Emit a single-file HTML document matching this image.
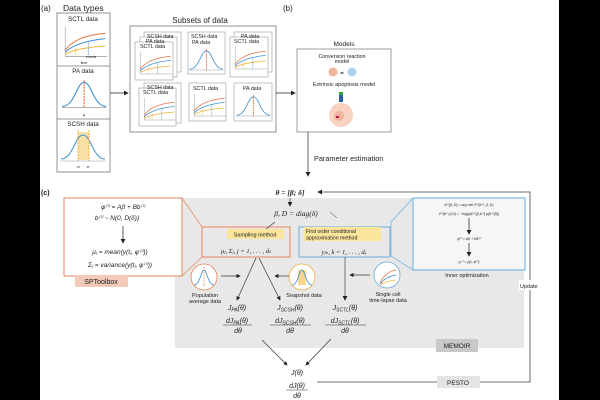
<!DOCTYPE html>
<html><head><meta charset="utf-8"><style>
html,body{margin:0;padding:0;background:#000;}
svg{display:block}
text{font-family:"Liberation Sans",sans-serif;fill:#222}
.m{font-family:"Liberation Serif",serif;font-style:italic}
</style></head><body>
<svg width="600" height="400" viewBox="0 0 600 400" xmlns="http://www.w3.org/2000/svg">
<defs>
<marker id="ah" markerWidth="6" markerHeight="6" refX="5" refY="3" orient="auto"><path d="M0,0 L6,3 L0,6 z" fill="#222"/></marker>
<g id="sctl">
 <line x1="4" y1="2" x2="4" y2="30" stroke="#999" stroke-width="0.6"/>
 <line x1="4" y1="30" x2="44" y2="30" stroke="#999" stroke-width="0.6"/>
 <path d="M4,24 Q14,10 42,8" stroke="#e8744a" fill="none" stroke-width="1"/>
 <path d="M4,26 Q14,16 42,13" stroke="#3a8fd1" fill="none" stroke-width="1"/>
 <path d="M4,28 Q14,22 42,20" stroke="#f0b43c" fill="none" stroke-width="1"/>
 <line x1="14" y1="22" x2="14" y2="30" stroke="#f0b43c" stroke-dasharray="1.5,1" stroke-width="0.8"/>
 <line x1="26" y1="17" x2="26" y2="30" stroke="#3a8fd1" stroke-dasharray="1.5,1" stroke-width="0.8"/>
</g>
<g id="pa">
 <line x1="2" y1="30" x2="44" y2="30" stroke="#999" stroke-width="0.6"/>
 <path d="M2,29 C14,29 16,6 23,6 C30,6 32,29 44,29" stroke="#3a8fd1" fill="none" stroke-width="1"/>
 <line x1="23" y1="4" x2="23" y2="30" stroke="#e8744a" stroke-dasharray="2,1" stroke-width="1.2"/>
</g>
</defs>
<rect x="0" y="0" width="600" height="400" fill="#000"/>
<rect x="40" y="0" width="519" height="400" fill="#fff"/>

<!-- (a) -->
<text x="41" y="11" font-size="8">(a)</text>
<text x="63" y="11" font-size="8.5">Data types</text>
<rect x="57" y="13" width="53" height="159" fill="#fff" stroke="#777" stroke-width="0.8"/>
<line x1="57" y1="66" x2="110" y2="66" stroke="#777" stroke-width="0.8"/>
<line x1="57" y1="119" x2="110" y2="119" stroke="#777" stroke-width="0.8"/>
<text x="83" y="21" font-size="6.3" text-anchor="middle">SCTL data</text>
<use href="#sctl" transform="translate(61,25) scale(1.05,1.05)"/>
<text x="86" y="58" font-size="3.5">events</text>
<text x="84" y="64" font-size="3.5" text-anchor="middle">time</text>
<text x="83" y="73" font-size="6.3" text-anchor="middle">PA data</text>
<use href="#pa" transform="translate(60,76) scale(1.05,1.05)"/>
<text x="84" y="116" font-size="4" text-anchor="middle">μ</text>
<text x="83" y="126" font-size="6.3" text-anchor="middle">SCSH data</text>
<path d="M78,132 L89,132 L89,160 L78,160 z" fill="#f6d78e" opacity="0.8"/>
<path d="M61,159 C73,159 75,135 83,135 C91,135 93,159 105,159" stroke="#3a8fd1" fill="none" stroke-width="1"/>
<line x1="78" y1="130" x2="78" y2="161" stroke="#f0b43c" stroke-dasharray="2,1" stroke-width="1"/>
<line x1="89" y1="130" x2="89" y2="161" stroke="#f0b43c" stroke-dasharray="2,1" stroke-width="1"/>
<line x1="60" y1="161" x2="106" y2="161" stroke="#999" stroke-width="0.6"/>
<text x="78" y="168" font-size="4" text-anchor="middle">-σ</text>
<text x="88" y="168" font-size="4" text-anchor="middle">σ</text>
<line x1="110" y1="93" x2="128" y2="93" stroke="#222" stroke-width="0.8" marker-end="url(#ah)"/>

<!-- subsets -->
<text x="200" y="23" font-size="8" text-anchor="middle">Subsets of data</text>
<rect x="130" y="26" width="146" height="106" fill="#fff" stroke="#777" stroke-width="0.8"/>
<g fill="#fff" stroke="#999" stroke-width="0.6">
<rect x="144" y="32" width="37" height="40"/><rect x="140" y="37" width="37" height="40"/><rect x="135" y="42" width="38" height="38"/>
<rect x="188" y="32" width="37" height="42"/>
<rect x="234" y="32" width="38" height="40"/><rect x="230" y="37" width="38" height="40"/>
<rect x="144" y="83" width="37" height="40"/><rect x="139" y="88" width="37" height="38"/>
<rect x="189" y="83" width="37" height="38"/>
<rect x="234" y="83" width="38" height="38"/>
</g>
<g font-size="5.3">
<text x="147" y="38">SCSH data</text><text x="146" y="43">PA data</text><text x="140" y="48">SCTL data</text>
<text x="191" y="38">SCSH data</text><text x="192" y="44">PA data</text>
<text x="241" y="38">PA data</text><text x="234" y="43">SCTL data</text>
<text x="147" y="89">SCSH data</text><text x="143" y="94">SCTL data</text>
<text x="193" y="90">SCTL data</text>
<text x="243" y="90">PA data</text>
</g>
<use href="#sctl" transform="translate(137,50) scale(0.8)"/>
<use href="#pa" transform="translate(188,46) scale(0.8)"/>
<use href="#sctl" transform="translate(232,45) scale(0.8)"/>
<use href="#sctl" transform="translate(141,96) scale(0.8)"/>
<use href="#sctl" transform="translate(191,92) scale(0.8)"/>
<use href="#pa" transform="translate(235,92) scale(0.8)"/>
<line x1="276" y1="93" x2="295" y2="93" stroke="#222" stroke-width="0.8" marker-end="url(#ah)"/>

<!-- (b) -->
<text x="283" y="11" font-size="8">(b)</text>
<text x="344" y="46" font-size="6.5" text-anchor="middle">Models</text>
<rect x="297" y="49" width="94" height="83" fill="#fff" stroke="#888" stroke-width="0.8"/>
<text x="342" y="58" font-size="5.3" text-anchor="middle">Conversion reaction</text>
<text x="342" y="63" font-size="5.3" text-anchor="middle">model</text>
<circle cx="333" cy="72" r="4.5" fill="#f2b39a"/><circle cx="352" cy="72" r="4.5" fill="#a9d1ef"/>
<text x="342" y="74" font-size="4" text-anchor="middle">⇄</text>
<text x="344" y="86" font-size="5.5" text-anchor="middle">Extrinsic apoptosis model</text>
<circle cx="341" cy="115" r="12" fill="#f8d3c2"/><circle cx="339" cy="116" r="5" fill="#f1b29a"/>
<rect x="339" y="92" width="4" height="3" fill="#3a3"/><rect x="339" y="95" width="4" height="7" fill="#2a5fa8"/>
<rect x="336" y="116" width="3" height="2" fill="#b02050"/>
<line x1="308" y1="132" x2="308" y2="176" stroke="#444" stroke-width="0.8" marker-end="url(#ah)"/>
<text x="314" y="161" font-size="7.3">Parameter estimation</text>

<!-- (c) -->
<text x="41" y="195" font-size="7" font-weight="bold">(c)</text>
<rect x="175" y="198" width="349" height="150" fill="#e8e8e8"/>
<text x="290" y="195" font-size="7.5" text-anchor="middle" class="m" font-weight="bold">θ = [β; δ]</text>
<polyline points="530,258 530,192 318,192" fill="none" stroke="#444" stroke-width="0.8" marker-end="url(#ah)"/>
<polyline points="317,382 530,382 530,258" fill="none" stroke="#444" stroke-width="0.8"/>
<rect x="519" y="280" width="23" height="10" fill="#fff"/>
<text x="520" y="288" font-size="5.5">Update</text>
<rect x="437" y="376" width="43" height="12" fill="#e4e4e4"/>
<text x="458" y="385" font-size="6.5" text-anchor="middle">PESTO</text>
<rect x="436" y="339" width="42" height="13" fill="#c8c8c8"/>
<text x="457" y="348" font-size="6.5" text-anchor="middle">MEMOIR</text>
<line x1="290" y1="198" x2="290" y2="206" stroke="#444" stroke-width="0.8" marker-end="url(#ah)"/>
<text x="296" y="216" font-size="7.5" text-anchor="middle" class="m">β,   D = diag(δ)</text>

<!-- SPToolbox -->
<polygon points="182,198 202,227 202,257 182,276" fill="none" stroke="#e8855a" stroke-width="0.7"/>
<rect x="64" y="198" width="118" height="78" fill="#fff" stroke="#e8855a" stroke-width="1"/>
<g font-size="6.5" class="m" text-anchor="middle">
<text x="123" y="209">φ⁽ⁱ⁾ = Aβ + Bb⁽ⁱ⁾</text>
<text x="117" y="220">b⁽ⁱ⁾ ~ N(0, D(δ))</text>
<text x="120" y="254">μⱼ = mean(y(tⱼ, φ⁽ⁱ⁾))</text>
<text x="120" y="267">Σⱼ = variance(y(tⱼ, φ⁽ⁱ⁾))</text>
</g>
<line x1="123" y1="226" x2="123" y2="243" stroke="#333" stroke-width="0.8" marker-end="url(#ah)"/>
<rect x="75" y="275" width="53" height="12" fill="#f3c9b8"/>
<text x="101" y="284" font-size="7" text-anchor="middle">SPToolbox</text>

<rect x="202" y="227" width="88" height="30" fill="none" stroke="#e8855a" stroke-width="1"/>
<rect x="227" y="229" width="57" height="10" fill="#fbe49c"/>
<text x="255" y="236.5" font-size="5.5" text-anchor="middle">Sampling method</text>
<line x1="275" y1="222" x2="266" y2="229" stroke="#333" stroke-width="0.6"/>
<text x="246" y="253" font-size="6.5" text-anchor="middle" class="m">μⱼ,   Σⱼ,   j = 1, . . . , dₜ</text>

<!-- FOCE -->
<polygon points="391,222 413,198 413,270 391,256" fill="none" stroke="#6aaedc" stroke-width="0.7"/>
<rect x="299" y="227" width="91" height="30" fill="none" stroke="#6aaedc" stroke-width="1"/>
<rect x="304" y="227" width="77" height="14" fill="#fbe49c"/>
<text x="306" y="233" font-size="5.2">First order conditional</text>
<text x="306" y="239.5" font-size="5.2">approximation method</text>
<line x1="330" y1="212" x2="337" y2="218" stroke="#333" stroke-width="0.5"/>
<text x="344" y="254" font-size="6.5" text-anchor="middle" class="m">yⱼₖ,    k = 1, . . . , dₑ</text>
<rect x="413" y="198" width="112" height="72" fill="#f6f6f6" stroke="#6aaedc" stroke-width="1"/>
<g font-size="3.5" class="m" text-anchor="middle" fill="#333">
<text x="469" y="206">b̂⁽ⁱ⁾(β, D) = arg min ϑ⁽ⁱ⁾(b⁽ⁱ⁾, β, D)</text>
<text x="469" y="215">ϑ⁽ⁱ⁾(b⁽ⁱ⁾,β,D) = −log(p(D⁽ⁱ⁾|β,b⁽ⁱ⁾) p(b⁽ⁱ⁾|D))</text>
<text x="469" y="240">φ̂⁽ⁱ⁾ = Aβ + Bb̂⁽ⁱ⁾</text>
<text x="469" y="263">yⱼ⁽ⁱ⁾ = y(tⱼ, φ̂⁽ⁱ⁾)</text>
</g>
<line x1="469" y1="218" x2="469" y2="234" stroke="#333" stroke-width="0.8" marker-end="url(#ah)"/>
<line x1="469" y1="243" x2="469" y2="256" stroke="#333" stroke-width="0.8" marker-end="url(#ah)"/>
<text x="467" y="277" font-size="5.5" text-anchor="middle">Inner optimization</text>

<!-- circles -->
<circle cx="204" cy="277" r="13" fill="#fff" stroke="#e8855a" stroke-width="0.8"/>
<path d="M194,285 C200,285 201,270 204,270 C207,270 208,285 214,285" stroke="#3a8fd1" fill="none" stroke-width="0.8"/>
<line x1="204" y1="267" x2="204" y2="287" stroke="#e8744a" stroke-dasharray="1.5,1" stroke-width="0.7"/>
<text x="205" y="297" font-size="5.5" text-anchor="middle">Population</text>
<text x="205" y="303" font-size="5.5" text-anchor="middle">average data</text>
<line x1="221" y1="276" x2="240" y2="276" stroke="#333" stroke-width="0.7" marker-end="url(#ah)"/>
<circle cx="302" cy="277" r="13" fill="#fff" stroke="#f0b43c" stroke-width="0.8"/>
<rect x="298" y="270" width="8" height="15" fill="#f6d78e"/>
<path d="M292,285 C298,285 299,270 302,270 C305,270 306,285 312,285" stroke="#3a8fd1" fill="none" stroke-width="0.8"/>
<text x="304" y="297" font-size="5.5" text-anchor="middle">Snapshot data</text>
<line x1="289" y1="276" x2="275" y2="276" stroke="#333" stroke-width="0.7" marker-end="url(#ah)"/>
<circle cx="387" cy="275" r="13" fill="#fff" stroke="#6aaedc" stroke-width="0.8"/>
<path d="M380,283 Q385,272 396,270" stroke="#e8744a" fill="none" stroke-width="0.8"/>
<path d="M380,284 Q385,277 396,275" stroke="#3a8fd1" fill="none" stroke-width="0.8"/>
<path d="M380,285 Q385,281 396,280" stroke="#f0b43c" fill="none" stroke-width="0.8"/>
<text x="388" y="296" font-size="5.5" text-anchor="middle">Single cell</text>
<text x="388" y="302" font-size="5.5" text-anchor="middle">time-lapse data</text>
<line x1="370" y1="275" x2="350" y2="275" stroke="#333" stroke-width="0.7" marker-end="url(#ah)"/>

<!-- arrows to J -->
<line x1="256" y1="258" x2="237" y2="300" stroke="#333" stroke-width="0.7" marker-end="url(#ah)"/>
<line x1="259" y1="258" x2="280" y2="300" stroke="#333" stroke-width="0.7" marker-end="url(#ah)"/>
<line x1="345" y1="257" x2="345" y2="300" stroke="#555" stroke-width="0.8" marker-end="url(#ah)"/>

<g font-size="7" class="m" text-anchor="middle">
<text x="237" y="310">J<tspan font-size="5" dy="1.5">PA</tspan><tspan dy="-1.5">(θ)</tspan></text>
<text x="237" y="323">dJ<tspan font-size="5" dy="1.5">PA</tspan><tspan dy="-1.5">(θ)</tspan></text>
<text x="238" y="333">dθ</text>
<text x="290" y="310">J<tspan font-size="5" dy="1.5">SCSH</tspan><tspan dy="-1.5">(θ)</tspan></text>
<text x="290" y="323">dJ<tspan font-size="5" dy="1.5">SCSH</tspan><tspan dy="-1.5">(θ)</tspan></text>
<text x="290" y="333">dθ</text>
<text x="345" y="310">J<tspan font-size="5" dy="1.5">SCTL</tspan><tspan dy="-1.5">(θ)</tspan></text>
<text x="345" y="323">dJ<tspan font-size="5" dy="1.5">SCTL</tspan><tspan dy="-1.5">(θ)</tspan></text>
<text x="345" y="333">dθ</text>
<text x="297" y="375">J(θ)</text>
<text x="297" y="388">dJ(θ)</text>
<text x="297" y="398">dθ</text>
</g>
<g stroke="#333" stroke-width="0.5">
<line x1="223" y1="325" x2="252" y2="325"/>
<line x1="270" y1="325" x2="311" y2="325"/>
<line x1="325" y1="325" x2="366" y2="325"/>
<line x1="286" y1="390" x2="308" y2="390"/>
</g>
<line x1="262" y1="340" x2="287" y2="365" stroke="#333" stroke-width="0.7" marker-end="url(#ah)"/>
<line x1="331" y1="339" x2="306" y2="365" stroke="#333" stroke-width="0.7" marker-end="url(#ah)"/>
</svg>
</body></html>
